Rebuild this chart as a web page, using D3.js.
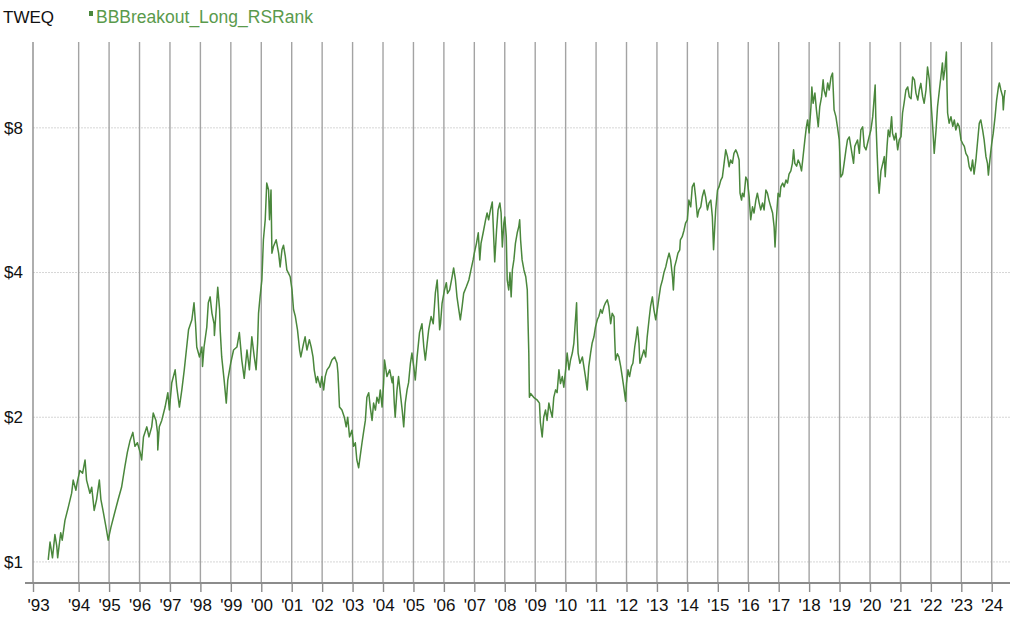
<!DOCTYPE html>
<html>
<head>
<meta charset="utf-8">
<script src="https://cdn.jsdelivr.net/npm/d3@7"></script>
<style>
  body { margin: 0; background: #fff; }
  svg { display: block; font-family: "Liberation Sans", Arial, sans-serif; }
</style>
</head>
<body>
<svg id="chart"></svg>
<script>
const symbol = "TWEQ"
const seriesName = "BBBreakout_Long_RSRank"

const yTicks = [1, 2, 4, 8]
const yTickLabels = ["$1", "$2", "$4", "$8"]
const xStartYear = 1992.5
const xStartLabel = "'93"
const xTickYears = d3.range(1994, 2025)

// decimal years / equity values
const years = [
  1993.00, 1993.06, 1993.14, 1993.22, 1993.28, 1993.31, 1993.41, 1993.46, 1993.55, 1993.66,
  1993.77, 1993.82, 1993.91, 1993.95, 1994.04, 1994.13, 1994.21, 1994.26, 1994.37, 1994.43,
  1994.51, 1994.59, 1994.68, 1994.73, 1994.81, 1994.90, 1994.97, 1995.06, 1995.19, 1995.30,
  1995.41, 1995.52, 1995.60, 1995.69, 1995.78, 1995.85, 1995.93, 1996.02, 1996.07, 1996.13,
  1996.24, 1996.31, 1996.40, 1996.45, 1996.54, 1996.59, 1996.60, 1996.65, 1996.73, 1996.84,
  1996.93, 1996.98, 1997.06, 1997.17, 1997.22, 1997.31, 1997.39, 1997.47, 1997.55, 1997.61,
  1997.72, 1997.79, 1997.84, 1997.88, 1997.97, 1998.05, 1998.07, 1998.12, 1998.21, 1998.26,
  1998.32, 1998.38, 1998.45, 1998.46, 1998.52, 1998.57, 1998.63, 1998.65, 1998.70, 1998.78,
  1998.85, 1998.90, 1999.00, 1999.09, 1999.20, 1999.28, 1999.36, 1999.44, 1999.53, 1999.61,
  1999.69, 1999.77, 1999.83, 1999.88, 1999.91, 1999.96, 2000.02, 2000.07, 2000.13, 2000.18,
  2000.24, 2000.27, 2000.32, 2000.35, 2000.40, 2000.49, 2000.57, 2000.62, 2000.68, 2000.73,
  2000.79, 2000.84, 2000.95, 2001.01, 2001.06, 2001.12, 2001.19, 2001.26, 2001.30, 2001.39,
  2001.44, 2001.50, 2001.58, 2001.64, 2001.70, 2001.74, 2001.81, 2001.85, 2001.94, 2001.99,
  2002.05, 2002.10, 2002.16, 2002.24, 2002.32, 2002.41, 2002.49, 2002.52, 2002.57, 2002.65,
  2002.73, 2002.79, 2002.84, 2002.90, 2002.98, 2003.03, 2003.09, 2003.14, 2003.20, 2003.25,
  2003.31, 2003.36, 2003.42, 2003.47, 2003.53, 2003.58, 2003.64, 2003.69, 2003.75, 2003.80,
  2003.86, 2003.91, 2003.97, 2004.02, 2004.05, 2004.13, 2004.22, 2004.30, 2004.33, 2004.37,
  2004.40, 2004.46, 2004.51, 2004.57, 2004.63, 2004.68, 2004.73, 2004.79, 2004.84, 2004.90,
  2004.95, 2005.01, 2005.06, 2005.12, 2005.20, 2005.28, 2005.34, 2005.39, 2005.45, 2005.50,
  2005.58, 2005.65, 2005.72, 2005.78, 2005.83, 2005.86, 2005.89, 2005.94, 2006.02, 2006.08,
  2006.12, 2006.19, 2006.27, 2006.32, 2006.38, 2006.43, 2006.49, 2006.54, 2006.60, 2006.65,
  2006.74, 2006.82, 2006.89, 2006.96, 2007.00, 2007.07, 2007.13, 2007.18, 2007.22, 2007.29,
  2007.37, 2007.42, 2007.47, 2007.53, 2007.59, 2007.64, 2007.67, 2007.73, 2007.78, 2007.84,
  2007.88, 2007.92, 2007.97, 2008.00, 2008.05, 2008.08, 2008.13, 2008.17, 2008.21, 2008.25,
  2008.30, 2008.35, 2008.41, 2008.46, 2008.49, 2008.52, 2008.57, 2008.63, 2008.69, 2008.74,
  2008.76, 2008.79, 2008.81, 2008.85, 2008.95, 2009.07, 2009.14, 2009.17, 2009.23, 2009.28,
  2009.34, 2009.39, 2009.45, 2009.50, 2009.56, 2009.61, 2009.67, 2009.72, 2009.78, 2009.83,
  2009.89, 2009.94, 2010.00, 2010.05, 2010.11, 2010.16, 2010.22, 2010.27, 2010.33, 2010.36,
  2010.38, 2010.41, 2010.47, 2010.55, 2010.60, 2010.65, 2010.71, 2010.76, 2010.82, 2010.87,
  2010.93, 2010.98, 2011.04, 2011.09, 2011.15, 2011.20, 2011.26, 2011.31, 2011.37, 2011.42,
  2011.48, 2011.53, 2011.59, 2011.61, 2011.64, 2011.70, 2011.75, 2011.81, 2011.86, 2011.91,
  2011.97, 2012.00, 2012.05, 2012.10, 2012.16, 2012.21, 2012.27, 2012.32, 2012.36, 2012.41,
  2012.44, 2012.57, 2012.63, 2012.68, 2012.74, 2012.79, 2012.85, 2012.90, 2012.96, 2013.01,
  2013.07, 2013.12, 2013.18, 2013.23, 2013.29, 2013.34, 2013.40, 2013.45, 2013.51, 2013.54,
  2013.58, 2013.64, 2013.69, 2013.75, 2013.77, 2013.83, 2013.89, 2013.94, 2014.00, 2014.05,
  2014.11, 2014.16, 2014.22, 2014.27, 2014.33, 2014.38, 2014.44, 2014.49, 2014.55, 2014.60,
  2014.66, 2014.71, 2014.77, 2014.82, 2014.86, 2014.90, 2014.93, 2014.99, 2015.04, 2015.10,
  2015.15, 2015.20, 2015.26, 2015.32, 2015.37, 2015.42, 2015.48, 2015.53, 2015.59, 2015.64,
  2015.70, 2015.73, 2015.78, 2015.81, 2015.86, 2015.92, 2015.97, 2016.03, 2016.08, 2016.14,
  2016.19, 2016.25, 2016.30, 2016.36, 2016.41, 2016.47, 2016.52, 2016.58, 2016.63, 2016.68,
  2016.74, 2016.80, 2016.85, 2016.88, 2016.93, 2016.98, 2017.04, 2017.07, 2017.13, 2017.18,
  2017.24, 2017.29, 2017.34, 2017.40, 2017.45, 2017.49, 2017.53, 2017.59, 2017.64, 2017.69,
  2017.75, 2017.80, 2017.86, 2017.91, 2017.95, 2018.00, 2018.06, 2018.09, 2018.13, 2018.19,
  2018.24, 2018.30, 2018.35, 2018.41, 2018.46, 2018.49, 2018.55, 2018.61, 2018.66, 2018.72,
  2018.77, 2018.82, 2018.88, 2018.93, 2018.99, 2019.04, 2019.10, 2019.15, 2019.21, 2019.26,
  2019.32, 2019.37, 2019.46, 2019.50, 2019.59, 2019.65, 2019.70, 2019.76, 2019.81, 2019.87,
  2019.92, 2019.97, 2020.03, 2020.09, 2020.14, 2020.17, 2020.19, 2020.23, 2020.27, 2020.30,
  2020.36, 2020.42, 2020.47, 2020.50, 2020.56, 2020.60, 2020.65, 2020.71, 2020.74, 2020.80,
  2020.85, 2020.91, 2020.96, 2021.02, 2021.07, 2021.12, 2021.18, 2021.24, 2021.29, 2021.35,
  2021.40, 2021.46, 2021.51, 2021.57, 2021.62, 2021.67, 2021.73, 2021.78, 2021.84, 2021.89,
  2021.95, 2022.00, 2022.06, 2022.11, 2022.17, 2022.22, 2022.28, 2022.33, 2022.38, 2022.41,
  2022.46, 2022.51, 2022.53, 2022.55, 2022.60, 2022.66, 2022.72, 2022.77, 2022.82, 2022.88,
  2022.93, 2022.99, 2023.04, 2023.10, 2023.15, 2023.21, 2023.26, 2023.32, 2023.37, 2023.42,
  2023.48, 2023.53, 2023.59, 2023.64, 2023.70, 2023.75, 2023.81, 2023.86, 2023.89, 2023.95,
  2024.00, 2024.05, 2024.11, 2024.16, 2024.22, 2024.25, 2024.30, 2024.36, 2024.38, 2024.41,
  2024.44
]

const closes = [
  1.01, 1.10, 1.02, 1.14, 1.08, 1.02, 1.15, 1.11, 1.22, 1.30,
  1.39, 1.48, 1.41, 1.46, 1.55, 1.53, 1.63, 1.48, 1.39, 1.43,
  1.28, 1.35, 1.48, 1.35, 1.27, 1.18, 1.11, 1.18, 1.27, 1.35,
  1.43, 1.58, 1.69, 1.79, 1.86, 1.74, 1.77, 1.69, 1.63, 1.82,
  1.91, 1.82, 1.91, 2.04, 1.97, 1.86, 1.71, 1.91, 1.97, 2.10,
  2.25, 2.07, 2.36, 2.51, 2.32, 2.10, 2.28, 2.51, 2.80, 3.04,
  3.19, 3.46, 3.13, 2.80, 2.67, 2.80, 2.55, 2.80, 3.08, 3.46,
  3.56, 3.29, 3.13, 2.96, 3.35, 3.73, 3.35, 3.04, 2.67, 2.39,
  2.14, 2.39, 2.60, 2.76, 2.80, 3.00, 2.63, 2.41, 2.76, 2.51,
  2.94, 2.67, 2.51, 2.85, 3.29, 3.56, 3.86, 4.68, 5.15, 6.14,
  5.94, 5.15, 5.94, 4.39, 4.53, 4.68, 4.39, 4.11, 4.46, 4.56,
  4.32, 4.05, 3.92, 3.68, 3.35, 3.24, 3.04, 2.76, 2.67, 2.85,
  2.94, 2.76, 2.90, 2.80, 2.67, 2.51, 2.36, 2.43, 2.31, 2.43,
  2.28, 2.43, 2.51, 2.55, 2.63, 2.67, 2.59, 2.47, 2.10, 2.07,
  2.00, 1.91, 2.00, 1.82, 1.88, 1.74, 1.77, 1.63, 1.57, 1.66,
  1.77, 1.86, 1.97, 2.20, 2.25, 2.10, 1.97, 2.14, 2.07, 2.20,
  2.14, 2.28, 2.10, 2.36, 2.63, 2.43, 2.51, 2.36, 2.43, 2.14,
  2.00, 2.28, 2.43, 2.24, 2.07, 1.91, 2.14, 2.28, 2.36, 2.59,
  2.72, 2.55, 2.39, 2.67, 3.00, 3.13, 2.80, 2.63, 2.85, 3.04,
  3.24, 3.13, 3.63, 3.86, 3.35, 3.04, 3.13, 3.45, 3.68, 3.81,
  3.62, 3.68, 3.92, 4.09, 3.86, 3.56, 3.35, 3.19, 3.40, 3.62,
  3.74, 3.86, 4.05, 4.25, 4.39, 4.60, 4.84, 4.25, 4.60, 4.84,
  5.15, 5.32, 5.15, 5.40, 5.61, 4.68, 4.21, 4.90, 5.40, 5.58,
  5.32, 4.52, 5.07, 5.22, 4.75, 3.86, 3.68, 4.00, 3.56, 4.05,
  4.25, 4.60, 4.84, 4.98, 5.15, 4.68, 4.25, 4.05, 3.92, 3.68,
  3.24, 2.72, 2.20, 2.24, 2.20, 2.17, 2.14, 1.95, 1.82, 2.00,
  2.07, 1.97, 2.14, 2.07, 2.00, 2.20, 2.28, 2.25, 2.51, 2.35,
  2.43, 2.31, 2.51, 2.72, 2.51, 2.63, 2.72, 2.85, 3.24, 3.46,
  3.04, 2.72, 2.59, 2.67, 2.55, 2.43, 2.28, 2.55, 2.72, 2.85,
  2.94, 3.08, 3.19, 3.24, 3.35, 3.29, 3.40, 3.46, 3.51, 3.40,
  3.13, 3.29, 3.24, 2.94, 2.63, 2.71, 2.67, 2.55, 2.43, 2.31,
  2.16, 2.35, 2.51, 2.43, 2.55, 2.59, 2.80, 2.94, 3.08, 2.85,
  2.59, 2.76, 2.67, 2.94, 3.19, 3.40, 3.56, 3.35, 3.19, 3.35,
  3.56, 3.74, 3.86, 4.00, 4.11, 4.25, 4.39, 4.25, 3.92, 3.68,
  4.11, 4.25, 4.39, 4.46, 4.68, 4.75, 4.90, 5.07, 5.15, 5.66,
  5.48, 6.03, 6.14, 5.75, 5.22, 5.40, 5.48, 5.75, 5.94, 5.75,
  5.40, 5.58, 5.66, 5.23, 4.46, 4.98, 5.40, 5.94, 6.03, 6.23,
  6.32, 6.70, 7.20, 6.96, 6.64, 6.86, 6.75, 7.08, 7.20, 7.08,
  6.86, 5.85, 5.66, 5.85, 5.75, 6.32, 6.23, 5.75, 5.15, 5.48,
  5.32, 5.66, 5.85, 5.58, 5.40, 5.58, 5.40, 5.94, 5.85, 5.66,
  5.48, 5.32, 4.98, 4.52, 5.23, 5.85, 5.75, 6.03, 6.14, 6.03,
  6.23, 6.14, 6.41, 6.51, 6.75, 7.20, 6.75, 6.66, 6.86, 6.75,
  6.51, 6.96, 7.55, 8.04, 8.31, 7.81, 8.84, 9.73, 9.00, 9.45,
  8.72, 8.04, 8.86, 9.29, 10.07, 9.59, 9.29, 9.92, 9.59, 10.21,
  10.40, 8.72, 8.44, 8.04, 7.55, 6.32, 6.41, 6.75, 7.20, 7.55,
  7.66, 7.32, 6.75, 7.32, 7.55, 7.08, 7.92, 8.04, 7.32, 7.20,
  7.43, 7.66, 7.92, 8.44, 9.28, 9.82, 8.44, 7.20, 6.23, 5.85,
  6.51, 6.75, 6.97, 6.33, 7.32, 7.92, 7.67, 8.44, 7.80, 7.55,
  7.80, 7.20, 7.55, 7.67, 8.59, 9.01, 9.59, 9.73, 9.29, 9.20,
  10.21, 10.07, 9.45, 9.14, 9.59, 9.90, 9.29, 9.00, 9.59, 10.71,
  10.07, 9.14, 8.04, 7.08, 7.92, 8.86, 9.59, 10.22, 10.92, 10.07,
  10.56, 11.51, 9.74, 8.59, 8.18, 8.44, 8.06, 8.31, 7.92, 8.18,
  8.06, 7.55, 7.43, 7.32, 7.08, 6.97, 6.64, 6.51, 6.86, 6.41,
  6.86, 7.43, 8.18, 8.31, 7.92, 7.55, 6.97, 6.75, 6.38, 6.97,
  7.43, 7.80, 8.44, 9.14, 9.74, 9.92, 9.59, 9.29, 8.72, 9.29,
  9.59
]

const data = years.map((y, i) => ({ year: y, close: closes[i] }))

const svgWidth = 1024, svgHeight = 630
const lineColor = "#4a873c"

const svg = d3.select("#chart")
              .attr("width", svgWidth)
              .attr("height", svgHeight)

// scales: linear decimal years, log dollars
const xs = d3.scaleLinear().domain([xStartYear, 2024.6]).range([33, 1010])
const ys = d3.scaleLog().domain([0.904, 12.07]).range([583, 42])

const [plotLeft, plotRight] = xs.range()
const [plotBottom, plotTop] = ys.range()

// horizontal dotted grid
svg.append("g")
  .selectAll("line")
  .data(yTicks)
  .join("line")
    .attr("x1", plotLeft)
    .attr("x2", plotRight)
    .attr("y1", d => ys(d))
    .attr("y2", d => ys(d))
    .attr("stroke", "#d6d6d6")
    .attr("stroke-dasharray", "2,1")

// vertical year grid
svg.append("g")
  .selectAll("line")
  .data(xTickYears)
  .join("line")
    .attr("x1", d => xs(d))
    .attr("x2", d => xs(d))
    .attr("y1", plotTop)
    .attr("y2", plotBottom)
    .attr("stroke", "#a3a3a3")
    .attr("stroke-width", 1.4)

// left frame line
svg.append("line")
  .attr("x1", plotLeft).attr("x2", plotLeft)
  .attr("y1", plotTop).attr("y2", plotBottom)
  .attr("stroke", "#8c8c8c")
  .attr("stroke-width", 1.4)

// y labels
svg.append("g")
  .selectAll("text")
  .data(yTicks)
  .join("text")
    .attr("x", plotLeft - 10)
    .attr("y", d => ys(d))
    .attr("dy", "0.35em")
    .attr("text-anchor", "end")
    .attr("font-size", 17)
    .attr("fill", "#111")
    .text((d, i) => yTickLabels[i])

// x axis
const xAxis = svg.append("g")
  .attr("transform", `translate(0,${plotBottom})`)
  .call(d3.axisBottom(xs)
    .tickValues([xStartYear].concat(xTickYears))
    .tickSize(9)
    .tickFormat(d => d === xStartYear ? xStartLabel : "'" + String(d).slice(2)))

xAxis.select(".domain").remove()
xAxis.selectAll(".tick line")
  .attr("stroke", "#8c8c8c")
  .attr("stroke-width", 1.4)
xAxis.selectAll(".tick text")
  .attr("y", 16)
  .attr("font-size", 17)
  .attr("font-family", "Liberation Sans, Arial, sans-serif")
  .attr("fill", "#111")
xAxis.selectAll(".tick text")
  .filter(d => d === xStartYear)
  .attr("text-anchor", "start")
  .attr("x", -6)

xAxis.append("line")
  .attr("x1", plotLeft - 8)
  .attr("x2", plotRight)
  .attr("stroke", "#8c8c8c")
  .attr("stroke-width", 2)

// equity line
const line = d3.line()
  .x(d => xs(d.year))
  .y(d => ys(d.close))

svg.append("path")
  .datum(data)
  .attr("fill", "none")
  .attr("stroke", lineColor)
  .attr("stroke-width", 1.5)
  .attr("stroke-linejoin", "round")
  .attr("d", line)

// header + legend
svg.append("text")
  .attr("x", 3).attr("y", 23)
  .attr("font-size", 17)
  .attr("fill", "#111")
  .text(symbol)

svg.append("rect")
  .attr("x", 89).attr("y", 11)
  .attr("width", 4).attr("height", 5)
  .attr("fill", lineColor)

svg.append("text")
  .attr("x", 96).attr("y", 23)
  .attr("font-size", 17.5)
  .attr("fill", "#5a9a4c")
  .text(seriesName)
</script>
</body>
</html>
